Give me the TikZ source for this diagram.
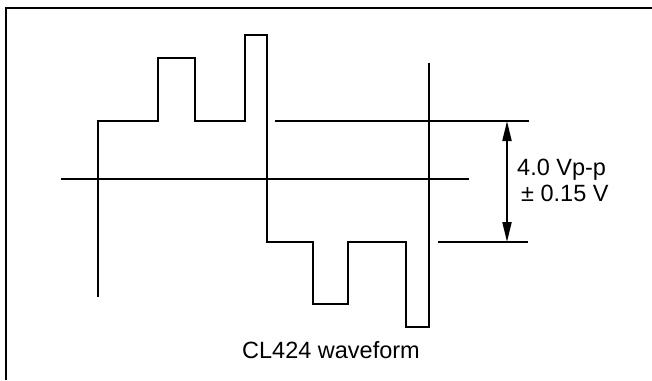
\documentclass[tikz,border=0pt]{standalone}
\usepackage{fontspec}
\setmainfont{Liberation Sans}
\usepackage{tikz}
\usetikzlibrary{arrows.meta, positioning}
\tikzset{
	waveline/.style={line width=2pt},
	frameline/.style={line width=2.8pt}
}
\tikzset{
	bigtext/.style={font=\fontsize{23.5}{27}\selectfont, inner sep=0pt}
}

\begin{document}
\begin{tikzpicture}[x=1pt, y=-1pt, >={Triangle[length=20pt, width=9pt]}]
      \useasboundingbox (0,0) rectangle (652,380);
      % frame, top and left edge only
      \draw[frameline] (6,380) -- (6,8) -- (652,8);
      % reference levels
      \coordinate (ptop) at (507,121);
      \coordinate (pbot) at (507,242);
      \draw[waveline] (61,179) -- (469,179);
      \draw[waveline] (275,121) -- (529,121);
      \draw[waveline] (438,242) -- (528,242);
      % the waveform
      \draw[waveline] (98,297) -- (98,121) -- (158,121) -- (158,58) -- (195,58) -- (195,121)
        -- (245,121) -- (245,35) -- (267,35) -- (267,242) -- (313,242) -- (313,304)
        -- (348,304) -- (348,242) -- (406,242) -- (406,327) -- (429,327) -- (429,63);
      % peak to peak
      \draw[waveline, <->] (ptop) -- (pbot);
      \node[bigtext, anchor=base west] (vpp) at (517,175) {4.0 Vp-p};
      \node[bigtext, anchor=base west] (tol) at (521,201) {± 0.15 V};
      \node[bigtext, anchor=base] (caption) at (331,358) {CL424 waveform};
    \end{tikzpicture}
\end{document}
